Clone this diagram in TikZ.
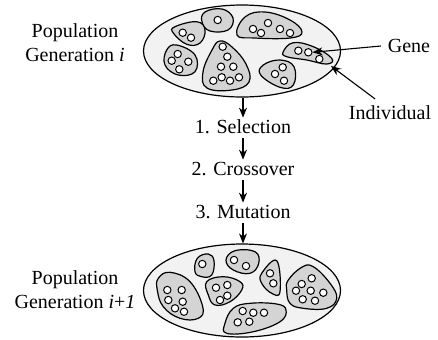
\documentclass[tikz,border=0pt]{standalone}
\usepackage{fontspec}
\setmainfont{Liberation Serif}
\newfontfamily\timesfont{Liberation Serif}
\usetikzlibrary{arrows.meta,shapes.geometric}
\definecolor{popfill}{HTML}{F2F2F2}
\definecolor{indfill}{HTML}{D4D4D4}
\begin{document}
\begin{tikzpicture}[x=0.5pt,y=-0.5pt, font=\timesfont\fontsize{10}{11.75}\selectfont,
  pop/.style={ellipse, draw, line width=0.6pt, fill=popfill, minimum width=98.5pt, minimum height=46pt, inner sep=0pt},
  ind/.style={draw, line width=0.6pt, fill=indfill},
  gen/.style={draw, line width=0.5pt, fill=white},
  stagelbl/.style={inner xsep=0pt, inner ysep=0.5pt, text height=7pt, text depth=2pt},
  arr/.style={-{Stealth[length=5pt,width=4pt]}, line width=0.55pt}]
\useasboundingbox (0,0) rectangle (438,339);

% ---------- top population ----------
\node[pop] (p1) at (242,51) {};
\draw[ind] plot[smooth cycle, tension=0.7] coordinates {(205,12) (222,9) (233,18) (228,30) (210,31) (202,22)};
\draw[ind] plot[smooth cycle, tension=0.7] coordinates {(237,35) (245,17) (265,12) (290,20) (302,32) (290,38) (255,38)};
\draw[ind] plot[smooth cycle, tension=0.7] coordinates {(175,26.7) (196.7,21.7) (205,30) (200,43) (186.7,44.3) (173.3,33)};
\draw[ind] plot[smooth cycle, tension=0.7] coordinates {(166.7,50) (176.7,45) (195,55) (195,71.7) (178.3,75) (165,65)};
\draw[ind] plot[smooth cycle, tension=0.7] coordinates {(220,41) (232,47) (246,64) (249,82) (232,90) (207,88) (203,72) (212,50)};
\draw[ind] plot[smooth cycle, tension=0.7] coordinates {(263.3,65) (280,60) (294,66.7) (293.3,85) (280,87.3) (260.7,75)};
\draw[ind] plot[smooth cycle, tension=0.7] coordinates {(283.3,51.7) (293.3,42.7) (313.3,46.7) (331.7,58.3) (326.7,64) (306.7,60) (286.7,56.7)};
\foreach \x/\y in {217.7/20, 253/29, 261/33, 268/23, 280/29, 290/33,
  182.7/32.7, 191/37.7, 177.7/54, 171.7/60.7, 188.3/61.7, 179.3/69.3,
  222.7/46.7, 227.3/56.7, 221/66.7, 233.3/66.7, 213.3/80.7, 221.7/77.3, 230/80.7, 239/77.3,
  275/74, 282.7/67.3, 284/80.7, 298.3/50.7, 319.3/59}
  \draw[gen] (\x,\y) circle [radius=3.7];
\node[gen, circle, inner sep=0pt, minimum size=3.7pt] (gene1) at (308.3,52.3) {};

% ---------- bottom population ----------
\node[pop, minimum height=46.5pt] (p2) at (242,290.5) {};
\draw[ind] plot[smooth cycle, tension=0.7] coordinates {(195,271.7) (197.3,258.3) (208.3,254) (214,260.7) (211.7,275) (201.7,276.7)};
\draw[ind] plot[smooth cycle, tension=0.7] coordinates {(226,260) (235,250.7) (255,251.7) (258.7,263.3) (250,273.3) (233.3,270)};
\draw[ind] plot[smooth cycle, tension=0.7] coordinates {(261.7,273.3) (276.7,260.7) (280,291.7) (271.7,293.3) (261.7,283.3)};
\draw[ind] plot[smooth cycle, tension=0.7] coordinates {(158.3,278.3) (170,272.3) (190,281.7) (202.7,306.7) (198.3,318.3) (180,318.3) (163.3,306.7) (157.3,290)};
\draw[ind] plot[smooth cycle, tension=0.7] coordinates {(206.7,281.7) (223.3,276.7) (240,281.7) (241.7,290) (230,301.7) (215,305) (208.3,295)};
\draw[ind] plot[smooth cycle, tension=0.7] coordinates {(288.3,280) (301.7,267.3) (313.3,266.7) (330,283.3) (336.7,298.3) (326.7,308.3) (303.3,308.3) (290,303.3) (286.7,290)};
\draw[ind] plot[smooth cycle, tension=0.7] coordinates {(225,323.3) (233.3,308.3) (250,303.3) (276.7,304) (286,310) (280,321.7) (253.3,331.7) (226.7,333.3)};
\foreach \x/\y in {202.3/264, 234/260, 246/266, 270/273.3, 273.3/283.3,
  167.3/290, 181.7/290, 168.3/300, 182.7/301.7, 175/308.3, 184/311.7,
  216/287.7, 227.3/285, 227.3/295.7, 220/300,
  301.7/284, 311.7/278.3, 296/290.7, 310.7/290.7, 323.3/292.7, 302.7/299.3, 315/300.7,
  242.7/311, 253.3/312.7, 264/312.7, 237.7/322.3, 249.3/321.7}
  \draw[gen] (\x,\y) circle [radius=3.7];

% ---------- labels ----------
\node[align=center] (lab1) at (75,42.5) {Population\\Generation \textit{i}};
\node[align=center] (lab2) at (75,289.5) {Population\\Generation \textit{i}+\textit{1}};
\node[stagelbl] (sel) at (243,128) {1. Selection};
\node[stagelbl] (cro) at (243,170) {2. Crossover};
\node[stagelbl] (mut) at (243,213) {3. Mutation};
\node (genelbl) at (409,46) {Gene};
\node (indlbl) at (390,113) {Individual};
\coordinate (indpt) at (331,66);

% ---------- arrows ----------
\draw[arr] (sel.north |- p1.south) -- (sel.north);
\draw[arr] (sel.south) -- (cro.north);
\draw[arr] (cro.south) -- (mut.north);
\draw[arr] (mut.south) -- (mut.south |- p2.north);
\draw[arr] (genelbl.west) -- (gene1.east);
\draw[arr] ([xshift=-7.5pt]indlbl.north) -- (indpt);
\end{tikzpicture}
\end{document}
